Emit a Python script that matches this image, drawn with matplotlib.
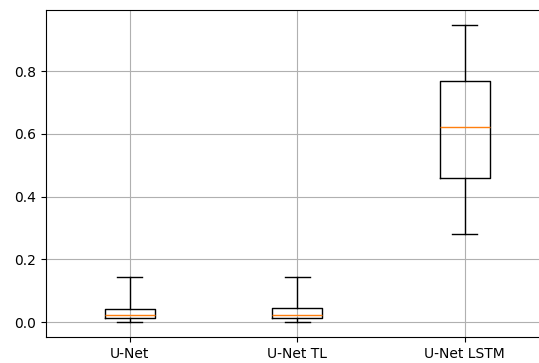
import matplotlib
matplotlib.use("Agg")
import matplotlib.pyplot as plt

# box statistics
labels = ["U-Net", "U-Net TL", "U-Net LSTM"]
whislo = [0.0, 0.0, 0.280]
q1 = [0.013, 0.013, 0.459]
med = [0.024, 0.022, 0.622]
q3 = [0.041, 0.046, 0.768]
whishi = [0.143, 0.143, 0.947]

stats = [
    {"label": l, "whislo": lo, "q1": a, "med": m, "q3": b, "whishi": hi, "fliers": []}
    for l, lo, a, m, b, hi in zip(labels, whislo, q1, med, q3, whishi)
]

fig = plt.figure(figsize=(5.39, 3.63), dpi=100)
ax = fig.add_axes([46 / 539, 1 - 337 / 363, 502.5 / 539, 327 / 363])
ax.bxp(stats, showfliers=False, medianprops={"color": "C1"})
ax.set_ylim(-0.0475, 0.9945)
ax.set_xlim(0.5, 3.5)
ax.set_yticks([0.0, 0.2, 0.4, 0.6, 0.8])
ax.grid(True)

fig.savefig("out.png", dpi=100)
